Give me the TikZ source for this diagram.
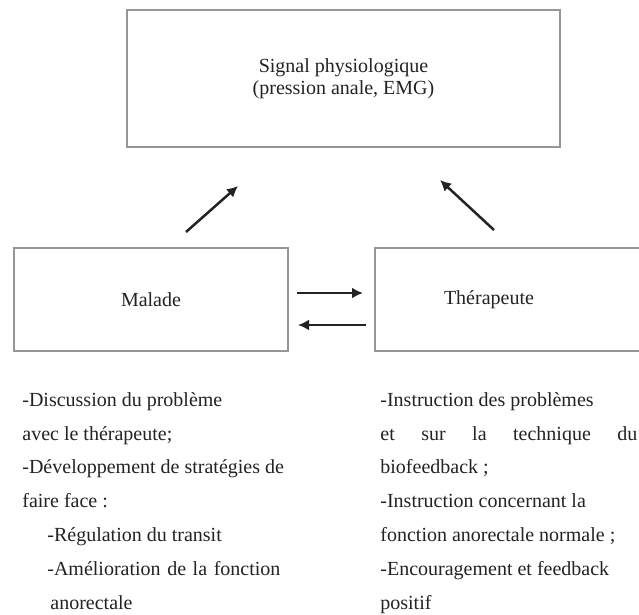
\documentclass[tikz,border=0pt]{standalone}
\usepackage{fontspec}
\setmainfont{Liberation Serif}
\usetikzlibrary{positioning,arrows.meta,calc}
\definecolor{cadre}{RGB}{150,150,150}
\definecolor{encre}{RGB}{35,35,35}

\begin{document}
\begin{tikzpicture}[x=0.5pt, y=-0.5pt, >={Latex[length=5.5pt,width=5.5pt]},
    font=\fontsize{10}{11}\selectfont, text=encre,
    boite/.style={draw=cadre, line width=1pt, minimum width=137pt, minimum height=51.5pt, inner sep=0pt},
    fleche/.style={->, encre, line width=1.25pt},
    liste/.style={anchor=north west, align=left, inner sep=0pt, font=\fontsize{10}{16.9}\selectfont}]
    \useasboundingbox (0,0) rectangle (639,615);
    \clip (0,0) rectangle (639,615);
    \fill[white] (0,0) rectangle (639,615);

    % Boîtes
    \node[boite, minimum width=216.5pt, minimum height=68.5pt, align=center] (signal) at (343.5,78.5) {Signal physiologique\\(pression anale, EMG)};
    \node[boite] (malade) at (151,299.5) {Malade};
    \node[boite, label={[xshift=-11.5pt]center:Thérapeute}] (therap) at (512,299.5) {};

    % Flèches
    \draw[fleche] ([xshift=17.5pt, yshift=7.5pt]malade.north) -- ([xshift=-52.75pt, yshift=-19pt]signal.south);
    \draw[fleche] ([xshift=-9pt, yshift=8.5pt]therap.north) -- ([xshift=48.25pt, yshift=-16pt]signal.south);
    \draw[fleche, shorten <=4pt, shorten >=5.5pt] ([yshift=3.25pt]malade.east) -- ([yshift=3.25pt]therap.west);
    \draw[fleche, shorten <=4pt, shorten >=4.5pt] ([yshift=-12.75pt]therap.west) -- ([yshift=-12.75pt]malade.east);

    % Listes
    \node[liste] (rolemalade) at (22,392) {-Discussion du problème\\
        avec le thérapeute;\\
        -Développement de stratégies de\\
        faire face :\\
        \hspace*{12.5pt}-Régulation du transit\\
        \hspace*{12.5pt}\makebox[116.5pt][s]{-Amélioration de la fonction}\\
        \hspace*{14pt}anorectale};
    \node[liste] (roletherap) at (380,392) {-Instruction des problèmes\\
        \makebox[128.5pt][s]{et sur la technique du}\\
        biofeedback ;\\
        -Instruction concernant la\\
        fonction anorectale normale ;\\
        -Encouragement et feedback\\
        positif};
\end{tikzpicture}
\end{document}
